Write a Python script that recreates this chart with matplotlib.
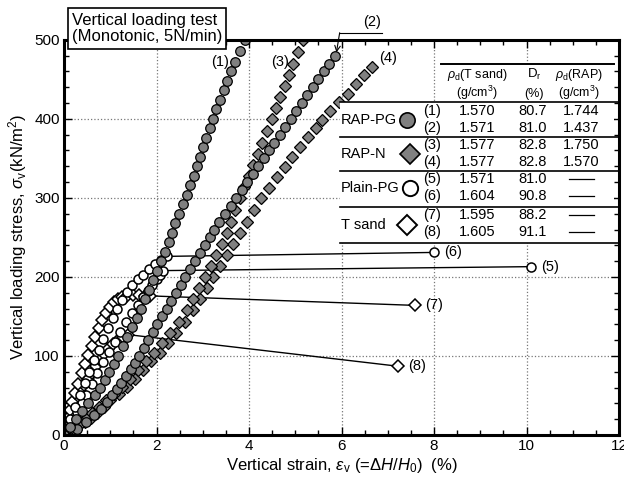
import matplotlib
matplotlib.use("Agg")
import matplotlib.pyplot as plt
from matplotlib.ticker import MultipleLocator
from matplotlib.patches import Rectangle

plt.rcParams['font.family'] = ['Liberation Sans', 'DejaVu Sans']
plt.rcParams['mathtext.fontset'] = 'custom'
plt.rcParams['mathtext.rm'] = 'Liberation Sans'
plt.rcParams['mathtext.it'] = 'Liberation Sans:italic'
plt.rcParams['mathtext.bf'] = 'Liberation Sans:bold'

# ---------------- data (strain %, stress kN/m2) ----------------
rap_pg1_strain = [0.00, 0.12, 0.25, 0.38, 0.52, 0.66, 0.77, 0.88, 0.98, 1.08,
                  1.17, 1.27, 1.37, 1.47, 1.57, 1.66, 1.75, 1.84, 1.93, 2.02,
                  2.10, 2.18, 2.26, 2.33, 2.41, 2.49, 2.57, 2.65, 2.73, 2.80,
                  2.87, 2.94, 3.01, 3.08, 3.15, 3.22, 3.29, 3.37, 3.45, 3.53,
                  3.61, 3.70, 3.80, 3.91]
rap_pg1_stress = [0, 10, 20, 30, 40, 50, 60, 70, 80, 90,
                  100, 112, 124, 136, 148, 160, 172, 184, 196, 208,
                  220, 232, 244, 256, 268, 280, 292, 304, 316, 328,
                  340, 352, 364, 376, 388, 400, 412, 424, 436, 448,
                  460, 472, 486, 500]

rap_pg2_strain = [0.00, 0.28, 0.48, 0.65, 0.80, 0.93, 1.04, 1.14, 1.24, 1.35,
                  1.44, 1.53, 1.62, 1.72, 1.82, 1.92, 2.02, 2.12, 2.22, 2.32,
                  2.42, 2.52, 2.62, 2.72, 2.83, 2.94, 3.05, 3.15, 3.25, 3.36,
                  3.48, 3.60, 3.72, 3.84, 3.96, 4.08, 4.20, 4.32, 4.43, 4.54,
                  4.66, 4.78, 4.90, 5.02, 5.14, 5.26, 5.38, 5.50, 5.62, 5.74,
                  5.85]
rap_pg2_stress = [0, 8, 16, 25, 33, 42, 50, 58, 66, 75,
                  83, 91, 100, 110, 120, 130, 140, 150, 160, 170,
                  180, 190, 200, 210, 220, 230, 240, 250, 260, 270,
                  280, 290, 300, 310, 320, 330, 340, 350, 360, 370,
                  380, 390, 400, 410, 420, 430, 440, 450, 460, 470,
                  479]

rap_n3_strain = [0.00, 0.22, 0.38, 0.50, 0.60, 0.75, 0.90, 1.07, 1.25, 1.43,
                 1.60, 1.78, 1.95, 2.12, 2.30, 2.48, 2.65, 2.79, 2.92, 3.05,
                 3.17, 3.29, 3.41, 3.52, 3.61, 3.70, 3.80, 3.90, 4.00, 4.09,
                 4.19, 4.29, 4.39, 4.49, 4.58, 4.68, 4.77, 4.87, 4.96, 5.06,
                 5.16]
rap_n3_stress = [0, 8, 16, 22, 28, 36, 44, 52, 61, 71,
                 82, 93, 104, 116, 129, 143, 158, 172, 186, 200,
                 214, 228, 242, 256, 270, 285, 300, 314, 328, 342,
                 356, 370, 385, 400, 414, 428, 442, 456, 470, 485,
                 500]

rap_n4_strain = [0.00, 0.25, 0.45, 0.58, 0.71, 0.86, 1.00, 1.18, 1.36, 1.53,
                 1.71, 1.89, 2.07, 2.25, 2.43, 2.61, 2.79, 2.95, 3.09, 3.23,
                 3.37, 3.52, 3.66, 3.80, 3.95, 4.10, 4.26, 4.43, 4.60, 4.77,
                 4.93, 5.10, 5.27, 5.44, 5.57, 5.76, 5.95, 6.13, 6.31, 6.48,
                 6.65]
rap_n4_stress = [0, 8, 16, 22, 28, 36, 44, 52, 61, 71,
                 82, 93, 104, 116, 129, 143, 158, 172, 186, 200,
                 214, 228, 242, 256, 270, 285, 300, 313, 326, 339,
                 352, 365, 377, 389, 399, 410, 421, 432, 444, 455,
                 466]

plain5_strain = [0.00, 0.08, 0.18, 0.28, 0.38, 0.48, 0.60, 0.72, 0.85, 0.97,
                 1.10, 1.22, 1.35, 1.48, 1.60, 1.71, 1.81, 1.91, 2.00, 2.08,
                 2.14]
plain5_stress = [0, 8, 18, 29, 40, 51, 65, 78, 92, 105,
                 118, 130, 143, 154, 165, 174, 182, 190, 197, 203,
                 208]
plain5_end = (10.1, 213)

plain6_strain = [0.00, 0.06, 0.14, 0.24, 0.34, 0.45, 0.55, 0.65, 0.75, 0.85,
                 0.95, 1.05, 1.15, 1.25, 1.36, 1.47, 1.59, 1.71, 1.84, 1.97,
                 2.10, 2.22]
plain6_stress = [0, 8, 20, 35, 50, 66, 80, 95, 108, 122,
                 135, 148, 160, 171, 181, 190, 197, 203, 210, 216,
                 221, 226]
plain6_end = (8.0, 231)

tsand7_strain = [0.00, 0.04, 0.08, 0.13, 0.18, 0.24, 0.31, 0.39, 0.46, 0.52,
                 0.60, 0.67, 0.75, 0.83, 0.91, 0.99, 1.07, 1.16, 1.25, 1.37,
                 1.50, 1.63, 1.75, 1.86]
tsand7_stress = [0, 12, 22, 32, 42, 53, 65, 78, 90, 101,
                 113, 124, 135, 145, 154, 162, 168, 172, 175, 176,
                 177, 177, 176, 176]
tsand7_end = (7.58, 164)

tsand8_strain = [0.00, 0.05, 0.10, 0.16, 0.22, 0.29, 0.36, 0.44, 0.52, 0.60,
                 0.69, 0.78, 0.87, 0.96, 1.06, 1.16, 1.27, 1.38]
tsand8_stress = [0, 9, 18, 27, 36, 45, 54, 63, 71, 79,
                 87, 95, 102, 109, 115, 120, 124, 127]
tsand8_end = (7.22, 87)

# table contents
row_ids = ["(1)", "(2)", "(3)", "(4)", "(5)", "(6)", "(7)", "(8)"]
rho_tsand = ["1.570", "1.571", "1.577", "1.577", "1.571", "1.604", "1.595", "1.605"]
dr_vals = ["80.7", "81.0", "82.8", "82.8", "81.0", "90.8", "88.2", "91.1"]
rho_rap = ["1.744", "1.437", "1.750", "1.570", None, None, None, None]
groups = ["RAP-PG", "RAP-N", "Plain-PG", "T sand"]

# ---------------- figure ----------------
GRAY = '#808080'
fig = plt.figure(figsize=(6.24, 4.86), dpi=100)
ax = fig.add_axes([0.1026, 0.105, 0.8894, 0.813])
ax.set_xlim(0, 12)
ax.set_ylim(0, 500)

open_c = dict(marker='o', ms=6.5, mfc='white', mec='black', mew=1.1, ls='none', zorder=2)
open_d = dict(marker='D', ms=6.2, mfc='white', mec='black', mew=1.1, ls='none', zorder=2)
gray_c = dict(marker='o', ms=6.9, mfc=GRAY, mec='black', mew=0.9, ls='none', zorder=2.5)
gray_d = dict(marker='D', ms=6.4, mfc=GRAY, mec='black', mew=0.9, ls='none', zorder=2.5)

for xs, ys, end, kw in [(tsand8_strain, tsand8_stress, tsand8_end, open_d),
                        (tsand7_strain, tsand7_stress, tsand7_end, open_d),
                        (plain5_strain, plain5_stress, plain5_end, open_c),
                        (plain6_strain, plain6_stress, plain6_end, open_c)]:
    ax.plot([xs[-1], end[0]], [ys[-1], end[1]], color='black', lw=1.0, zorder=1.8)
    ax.plot(xs, ys, **kw)
    ax.plot([end[0]], [end[1]], **kw)

ax.plot(rap_n4_strain, rap_n4_stress, **gray_d)
ax.plot(rap_n3_strain, rap_n3_stress, **gray_d)
ax.plot(rap_pg2_strain, rap_pg2_stress, **gray_c)
ax.plot(rap_pg1_strain, rap_pg1_stress, **gray_c)

# curve labels
lab_fs = 10.5
ax.text(3.37, 472, "(1)", ha='center', va='center', fontsize=lab_fs)
ax.text(4.67, 472, "(3)", ha='center', va='center', fontsize=lab_fs)
ax.text(7.0, 477, "(4)", ha='center', va='center', fontsize=lab_fs)
ax.text(6.67, 522, "(2)", ha='center', va='center', fontsize=lab_fs, clip_on=False)
ax.plot([6.87, 5.96], [509, 509], color='black', lw=0.8, clip_on=False)
ax.annotate("", xy=(5.89, 484), xytext=(5.96, 509),
            arrowprops=dict(arrowstyle='->', lw=0.8, color='black', shrinkA=0, shrinkB=0),
            annotation_clip=False)
for end, t in [(plain6_end, "(6)"), (plain5_end, "(5)"), (tsand7_end, "(7)"), (tsand8_end, "(8)")]:
    ax.text(end[0] + 0.22, end[1], t, ha='left', va='center', fontsize=lab_fs)

# ---------------- table ----------------
xL, xH, xR = 5.96, 8.16, 11.9
yTop, yHead, yBot = 469.6, 421.5, 243.0
ax.add_patch(Rectangle((xL, yBot), xR - xL, yHead - yBot, fc='white', ec='none', zorder=3))
ax.add_patch(Rectangle((xH, yHead), xR - xH, yTop - yHead, fc='white', ec='none', zorder=3))
ax.plot([xH, xR], [yTop, yTop], color='black', lw=1.4, zorder=4)
for yl in [yHead, 377, 334, 288.6, yBot]:
    ax.plot([xL, 12], [yl, yl], color='black', lw=1.2, zorder=4, clip_on=False)

hfs = 9
ax.text(8.94, 456, r"$\rho_{\rm d}$(T sand)", ha='center', va='center', fontsize=hfs, zorder=5)
ax.text(8.94, 433, r"(g/cm$^3$)", ha='center', va='center', fontsize=hfs, zorder=5)
ax.text(10.17, 456, r"D$_{\rm r}$", ha='center', va='center', fontsize=hfs + 0.5, zorder=5)
ax.text(10.17, 432, "(%)", ha='center', va='center', fontsize=hfs, zorder=5)
ax.text(11.14, 456, r"$\rho_{\rm d}$(RAP)", ha='center', va='center', fontsize=hfs, zorder=5)
ax.text(11.14, 433, r"(g/cm$^3$)", ha='center', va='center', fontsize=hfs, zorder=5)

row_y = [410, 388.6, 367, 345.6, 324, 302.5, 278.5, 257]
tfs = 10.5
for i, ry in enumerate(row_y):
    ax.text(7.96, ry, row_ids[i], ha='center', va='center', fontsize=tfs, zorder=5)
    ax.text(8.94, ry, rho_tsand[i], ha='center', va='center', fontsize=tfs, zorder=5)
    ax.text(10.14, ry, dr_vals[i], ha='center', va='center', fontsize=tfs, zorder=5)
    if rho_rap[i] is not None:
        ax.text(11.18, ry, rho_rap[i], ha='center', va='center', fontsize=tfs, zorder=5)
    else:
        ax.plot([10.92, 11.46], [ry, ry], color='black', lw=0.9, zorder=5)

grp_y = [398.7, 355, 312, 266]
grp_kw = [dict(marker='o', ms=11, mfc=GRAY, mec='black', mew=1.2),
          dict(marker='D', ms=10, mfc=GRAY, mec='black', mew=1.2),
          dict(marker='o', ms=11, mfc='white', mec='black', mew=1.4),
          dict(marker='D', ms=10, mfc='white', mec='black', mew=1.4)]
grp_mx = [7.42, 7.47, 7.49, 7.42]
for g, gy, kw, mx in zip(groups, grp_y, grp_kw, grp_mx):
    ax.text(5.99, gy, g, ha='left', va='center', fontsize=tfs, zorder=5)
    ax.plot([mx], [gy], ls='none', zorder=5, **kw)

# ---------------- axes styling ----------------
ax.xaxis.set_major_locator(MultipleLocator(2))
ax.xaxis.set_minor_locator(MultipleLocator(0.5))
ax.yaxis.set_major_locator(MultipleLocator(100))
ax.yaxis.set_minor_locator(MultipleLocator(20))
ax.grid(which='major', ls=':', color='#777777', lw=0.9)
ax.set_axisbelow(True)
ax.tick_params(which='both', direction='in', top=True, right=True, width=1.0)
ax.tick_params(which='major', length=6, labelsize=11, pad=3)
ax.tick_params(which='minor', length=3.5)
for lbl in ax.get_xticklabels() + ax.get_yticklabels():
    lbl.set_family(['Liberation Sans Narrow', 'Liberation Sans'])
for sp in ax.spines.values():
    sp.set_linewidth(2.2)

ax.set_xlabel(r"Vertical strain, $\varepsilon_{\rm v}$ (=$\mathit{\Delta H}$/$\mathit{H}_{\rm 0}$)  (%)",
              fontsize=12, labelpad=2)
ax.set_ylabel(r"Vertical loading stress, $\sigma_{\rm v}$(kN/m$^2$)", fontsize=12, labelpad=4)

fig.text(0.115, 0.974, "Vertical loading test\n(Monotonic, 5N/min)", ha='left', va='top',
         fontsize=12, linespacing=1.15, zorder=10,
         bbox=dict(boxstyle='square,pad=0.25', fc='white', ec='black', lw=1.2))

fig.savefig("out.png", dpi=100)
